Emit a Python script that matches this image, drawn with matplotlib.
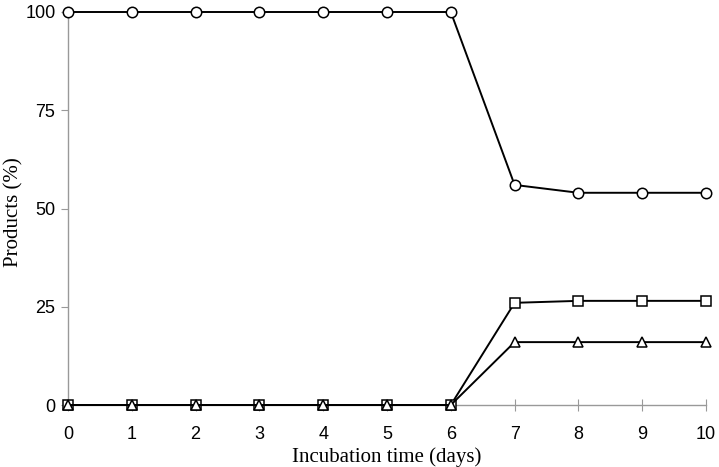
import matplotlib
matplotlib.use("Agg")
import matplotlib.pyplot as plt

days = [0, 1, 2, 3, 4, 5, 6, 7, 8, 9, 10]
circle_vals = [100, 100, 100, 100, 100, 100, 100, 56, 54, 54, 54]
square_vals = [0, 0, 0, 0, 0, 0, 0, 26, 26.5, 26.5, 26.5]
triangle_vals = [0, 0, 0, 0, 0, 0, 0, 16, 16, 16, 16]
y_ticks = [0, 25, 50, 75, 100]

fig = plt.figure(figsize=(7.19, 4.67), dpi=100)
ax = fig.add_axes([68/719, 62/467, (706-68)/719, (405-12)/467])

common = dict(color="black", lw=1.4, mfc="white", mec="black", mew=1.1, clip_on=False, zorder=3)
ax.plot(days, circle_vals, marker="o", ms=7.5, **common)
ax.plot(days, square_vals, marker="s", ms=7.5, **common)
ax.plot(days, triangle_vals, marker="^", ms=7.5, **common)

ax.set_xlim(0, 10)
ax.set_ylim(0, 100)
ax.set_xticks(days)
ax.set_yticks(y_ticks)
for s in ["top", "right"]:
    ax.spines[s].set_visible(False)
for s in ["left", "bottom"]:
    ax.spines[s].set_color("#999999")
    ax.spines[s].set_linewidth(1.0)
ax.tick_params(axis="x", direction="inout", length=8, color="#999999", labelsize=13, pad=11)
ax.tick_params(axis="y", direction="out", length=5, color="#999999", labelsize=13, pad=4)
for lab in ax.get_xticklabels() + ax.get_yticklabels():
    lab.set_fontfamily("Liberation Sans")

ax.set_xlabel("Incubation time (days)", fontfamily="Liberation Serif", fontsize=15)
ax.set_ylabel("Products (%)", fontfamily="Liberation Serif", fontsize=15)
ax.xaxis.set_label_coords((387 - 68) / 638, (405 - 457) / 393)
ax.yaxis.set_label_coords((14 - 68) / 638, (405 - 212) / 393)
ax.xaxis.label.set_va("center")
ax.yaxis.label.set_va("center")

fig.savefig("out.png", dpi=100)
